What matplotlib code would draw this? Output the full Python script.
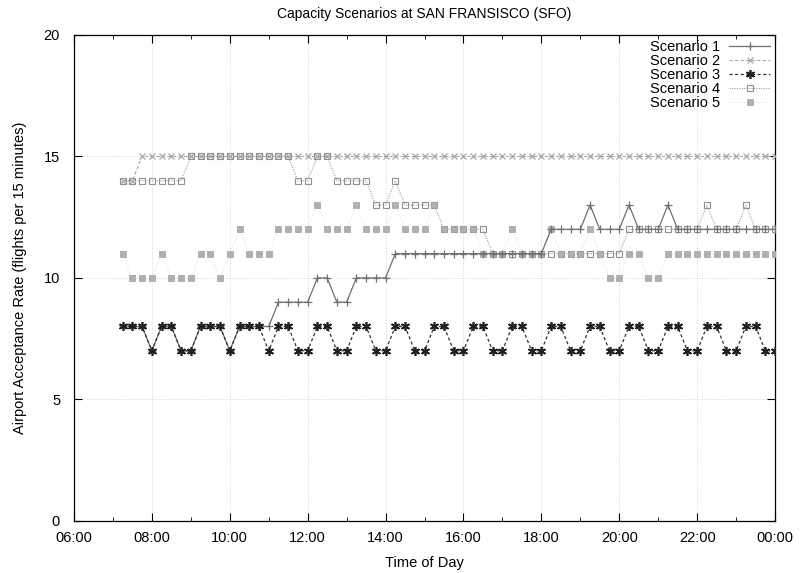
import numpy as np
import matplotlib
matplotlib.use("Agg")
import matplotlib.pyplot as plt
from matplotlib.ticker import MultipleLocator, FuncFormatter

plt.rcParams['font.family'] = ['Liberation Sans', 'DejaVu Sans']

# time of day in hours, one sample every 15 minutes from 07:15 to 24:00
times = np.arange(7.25, 24.001, 0.25)

scenario1 = [8, 8, 8, 7, 8, 8, 7, 7, 8, 8, 8, 7, 8, 8, 8, 8, 9, 9, 9, 9,
             10, 10, 9, 9, 10, 10, 10, 10, 11, 11, 11, 11, 11, 11, 11, 11,
             11, 11, 11, 11, 11, 11, 11, 11,
             12, 12, 12, 12, 13, 12, 12, 12, 13, 12, 12, 12, 13, 12, 12, 12,
             12, 12, 12, 12, 12, 12, 12, 12]
scenario2 = [14, 14] + [15] * 66
scenario3 = [8, 8, 8, 7, 8, 8, 7, 7, 8, 8, 8, 7, 8, 8, 8, 7, 8, 8, 7, 7,
             8, 8, 7, 7, 8, 8, 7, 7, 8, 8, 7, 7, 8, 8, 7, 7, 8, 8, 7, 7,
             8, 8, 7, 7, 8, 8, 7, 7, 8, 8, 7, 7, 8, 8, 7, 7, 8, 8, 7, 7,
             8, 8, 7, 7, 8, 8, 7, 7]
scenario4 = [14, 14, 14, 14, 14, 14, 14,
             15, 15, 15, 15, 15, 15, 15, 15, 15, 15, 15,
             14, 14, 15, 15, 14, 14, 14, 14, 13, 13, 14, 13, 13, 13, 13,
             12, 12, 12, 12, 12,
             11, 11, 11, 11, 11, 11, 11, 11, 11, 11, 11, 11, 11, 11,
             12, 12, 12, 12, 12, 12, 12, 12, 13, 12, 12, 12, 13, 12, 12, 12]
scenario5 = [11, 10, 10, 10, 11, 10, 10, 10, 11, 11, 10, 11, 12, 11, 11, 11,
             12, 12, 12, 12,
             13, 12, 12, 12, 13, 12, 12, 12, 13, 12, 12, 12, 13, 12, 12, 12,
             12, 11, 11, 11, 12, 11, 11, 11, 12, 11, 11, 11,
             12, 11, 10, 10, 11, 11, 10, 10,
             11, 11, 11, 11, 11, 11, 11, 11, 11, 11, 11, 11]

labels = ["Scenario 1", "Scenario 2", "Scenario 3", "Scenario 4", "Scenario 5"]

fig = plt.figure(figsize=(8.04, 5.73), dpi=100)
ax = fig.add_axes([0.092, 0.091, 0.872, 0.848])

ax.plot(times, scenario1, color='#707070', lw=0.9, ls='-', marker='+',
        ms=5.5, mew=0.9, label=labels[0], zorder=5)
ax.plot(times, scenario2, color='#a8a8a8', lw=0.8, ls=(0, (3, 2)), marker='x',
        ms=4.5, mew=0.9, label=labels[1], zorder=3)
ax.plot(times, scenario3, color='#303030', lw=0.9, ls=(0, (2.5, 2)), marker=(6, 2, 0),
        ms=6.5, mew=1.2, mec='#202020', label=labels[2], zorder=6)
ax.plot(times, scenario4, color='#a0a0a0', lw=0.8, ls=(0, (1, 1.2)), marker='s',
        ms=5, mew=0.8, mfc='none', mec='#909090', label=labels[3], zorder=4)
ax.plot(times, scenario5, color='#d4d4d4', lw=0.6, ls=(0, (1, 2)), marker='s',
        ms=4.5, mew=0.5, mfc='#b0b0b0', mec='#a0a0a0', label=labels[4], zorder=4)

ax.set_xlim(6, 24)
ax.set_ylim(0, 20)
ax.xaxis.set_major_locator(MultipleLocator(2))
ax.xaxis.set_minor_locator(MultipleLocator(1))
ax.yaxis.set_major_locator(MultipleLocator(5))
ax.xaxis.set_major_formatter(FuncFormatter(lambda v, p: "%02d:00" % (int(round(v)) % 24)))
ax.tick_params(which='both', direction='in', top=True, right=True, labelsize=10.5)
ax.tick_params(axis='x', which='major', pad=7)
ax.tick_params(axis='y', which='major', pad=10)
ax.tick_params(which='major', length=6, width=0.8)
ax.tick_params(which='minor', length=3, width=0.6)
ax.grid(True, which='major', color='#c8c8c8', ls=(0, (1, 2)), lw=0.6)
for s in ax.spines.values():
    s.set_linewidth(0.9)

ax.set_title("Capacity Scenarios at SAN FRANSISCO (SFO)", fontsize=10, pad=12)
ax.set_xlabel("Time of Day", fontsize=10.5, labelpad=8)
ax.set_ylabel("Airport Acceptance Rate (flights per 15 minutes)", fontsize=10.5, labelpad=12)

leg = ax.legend(loc='upper right', frameon=False, markerfirst=False, fontsize=10.5,
                handlelength=2.8, handletextpad=0.6, labelspacing=0.0,
                borderaxespad=0.15, borderpad=0.2)

fig.savefig("out.png", dpi=100)
